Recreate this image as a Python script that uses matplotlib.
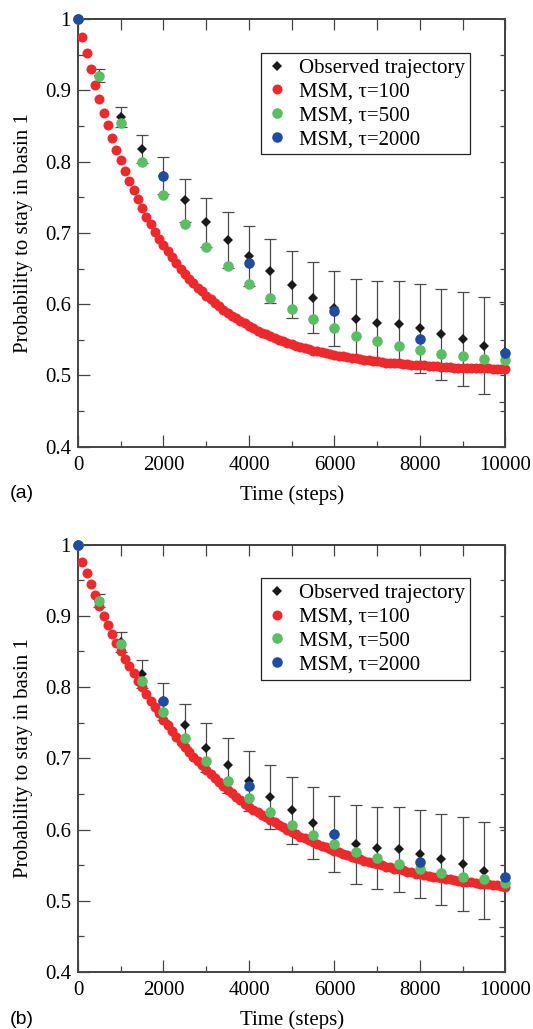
import matplotlib
matplotlib.use("Agg")
import matplotlib.pyplot as plt
import numpy as np

plt.rcParams['font.family'] = ['Liberation Serif', 'DejaVu Serif']

# observed trajectory (same in both panels)
t_obs = [0, 500, 1000, 1500, 2000, 2500, 3000, 3500, 4000, 4500, 5000,
         5500, 6000, 6500, 7000, 7500, 8000, 8500, 9000, 9500, 10000]
p_obs = [1.000, 0.921, 0.863, 0.818, 0.780, 0.746, 0.715, 0.690, 0.668, 0.646, 0.627,
         0.609, 0.594, 0.579, 0.574, 0.572, 0.566, 0.558, 0.551, 0.542, 0.533]
err_obs = [0.000, 0.009, 0.014, 0.020, 0.026, 0.030, 0.034, 0.039, 0.042, 0.045, 0.047,
           0.050, 0.053, 0.056, 0.058, 0.060, 0.062, 0.064, 0.066, 0.068, 0.070]

# MSM tau=100, every 100 steps
t_100 = np.arange(0, 10001, 100)
msm100_a = [1.000, 0.975, 0.952, 0.930, 0.908, 0.888, 0.869, 0.851, 0.834, 0.817,
            0.802, 0.787, 0.773, 0.760, 0.747, 0.735, 0.723, 0.713, 0.702, 0.692,
            0.683, 0.674, 0.666, 0.658, 0.650, 0.643, 0.636, 0.630, 0.623, 0.618,
            0.612, 0.607, 0.602, 0.597, 0.592, 0.588, 0.584, 0.580, 0.576, 0.573,
            0.570, 0.566, 0.563, 0.560, 0.558, 0.555, 0.553, 0.550, 0.548, 0.546,
            0.544, 0.542, 0.540, 0.539, 0.537, 0.535, 0.534, 0.533, 0.531, 0.530,
            0.529, 0.528, 0.527, 0.526, 0.525, 0.524, 0.523, 0.522, 0.521, 0.520,
            0.520, 0.519, 0.518, 0.518, 0.517, 0.517, 0.516, 0.516, 0.515, 0.515,
            0.514, 0.514, 0.513, 0.513, 0.513, 0.512, 0.512, 0.512, 0.511, 0.511,
            0.511, 0.511, 0.510, 0.510, 0.510, 0.510, 0.510, 0.509, 0.509, 0.509,
            0.509]
msm100_b = [1.000, 0.975, 0.960, 0.944, 0.929, 0.914, 0.900, 0.887, 0.874, 0.862,
            0.851, 0.840, 0.829, 0.819, 0.809, 0.800, 0.790, 0.781, 0.772, 0.763,
            0.754, 0.746, 0.738, 0.730, 0.723, 0.716, 0.709, 0.702, 0.696, 0.690,
            0.684, 0.678, 0.672, 0.667, 0.661, 0.656, 0.651, 0.646, 0.641, 0.636,
            0.632, 0.628, 0.624, 0.620, 0.617, 0.613, 0.610, 0.606, 0.603, 0.599,
            0.596, 0.593, 0.590, 0.588, 0.585, 0.582, 0.580, 0.577, 0.575, 0.572,
            0.570, 0.568, 0.566, 0.564, 0.562, 0.560, 0.558, 0.556, 0.555, 0.553,
            0.551, 0.550, 0.548, 0.547, 0.545, 0.544, 0.543, 0.541, 0.540, 0.538,
            0.537, 0.536, 0.535, 0.534, 0.533, 0.532, 0.531, 0.530, 0.529, 0.528,
            0.527, 0.526, 0.526, 0.525, 0.524, 0.524, 0.523, 0.522, 0.522, 0.521,
            0.520]

# MSM tau=500
t_500 = t_obs
msm500_a = [1.000, 0.920, 0.855, 0.799, 0.753, 0.713, 0.680, 0.653, 0.629, 0.609, 0.593,
            0.579, 0.567, 0.556, 0.549, 0.542, 0.536, 0.530, 0.527, 0.523, 0.521]
msm500_b = [1.000, 0.921, 0.861, 0.809, 0.765, 0.728, 0.696, 0.668, 0.644, 0.625, 0.607,
            0.592, 0.580, 0.569, 0.560, 0.552, 0.545, 0.539, 0.534, 0.530, 0.525]

# MSM tau=2000
t_2000 = [0, 2000, 4000, 6000, 8000, 10000]
msm2000_a = [1.000, 0.780, 0.658, 0.590, 0.551, 0.531]
msm2000_b = [1.000, 0.780, 0.661, 0.593, 0.554, 0.533]

x_major = [0, 2000, 4000, 6000, 8000, 10000]
x_minor = [1000, 3000, 5000, 7000, 9000]
x_top = list(range(0, 10001, 1000))
y_major = [0.4, 0.5, 0.6, 0.7, 0.8, 0.9, 1.0]
y_labels = ['0.4', '0.5', '0.6', '0.7', '0.8', '0.9', '1']
y_minor = [0.45, 0.55, 0.65, 0.75, 0.85, 0.95]
y_right = [0.4, 0.45, 0.5, 0.55, 0.6, 0.65, 0.7, 0.75, 0.8, 0.85, 0.9, 0.95, 1.0]

RED = '#ec2a2e'
GREEN = '#5bbd64'
BLUE = '#1f4c9e'
DARK = '#1a1a1a'
SPINE = '#444444'
FS = 15


def draw_panel(ax, msm100, msm500, msm2000, tag, fig_y):
    ax.errorbar(t_obs, p_obs, yerr=err_obs, fmt='none', ecolor='#4a4a4a',
                elinewidth=0.9, capsize=4.0, capthick=0.9, zorder=2)
    ax.plot(t_obs, p_obs, 'D', color=DARK, ms=5.0, mew=0, zorder=3,
            clip_on=False, label='Observed trajectory')
    ax.plot(t_100, msm100, 'o', color=RED, ms=7.2, mew=0, zorder=4,
            clip_on=False, label='MSM, τ=100')
    ax.plot(t_500, msm500, 'o', color=GREEN, ms=7.6, mew=0, zorder=5,
            clip_on=False, label='MSM, τ=500')
    ax.plot(t_2000, msm2000, 'o', color=BLUE, ms=7.6, mew=0, zorder=6,
            clip_on=False, label='MSM, τ=2000')

    ax.set_xlim(0, 10000)
    ax.set_ylim(0.4, 1.0)
    ax.set_xticks(x_major)
    ax.set_xticks(x_minor, minor=True)
    ax.set_yticks(y_major, y_labels)
    ax.set_yticks(y_minor, minor=True)
    ax.tick_params(which='both', direction='in', top=False, right=False,
                   color=SPINE, width=0.9, labelsize=FS)
    ax.tick_params(which='major', length=8.6)
    ax.tick_params(which='minor', length=4.0)
    ax.tick_params(axis='x', pad=6.5)
    ax.tick_params(axis='y', pad=5)

    top = ax.secondary_xaxis('top')
    top.set_xticks(x_top)
    top.tick_params(direction='in', length=8, width=0.9, color=SPINE,
                    labeltop=False)
    right = ax.secondary_yaxis('right')
    right.set_yticks(y_right)
    right.tick_params(direction='in', length=3.8, width=0.9, color=SPINE,
                      labelright=False)
    for a in (ax, top, right):
        for s in a.spines.values():
            s.set_color(SPINE)
            s.set_linewidth(1.4)

    ax.set_xlabel('Time (steps)', fontsize=FS)
    ax.set_ylabel('Probability to stay in basin 1', fontsize=FS)
    ax.xaxis.set_label_coords(0.5, -0.09)
    ax.yaxis.set_label_coords(-0.105, 0.5)

    leg = ax.legend(loc='upper left', bbox_to_anchor=(0.429, 0.921),
                    fontsize=FS, frameon=True, fancybox=False, framealpha=1,
                    edgecolor='#222222', borderpad=0.25, handlelength=1.0,
                    handletextpad=0.55, labelspacing=0.2, borderaxespad=0)
    leg.get_frame().set_linewidth(0.9)

    ax.figure.text(0.019, fig_y, tag, fontsize=14, family='Liberation Sans',
                   va='center', ha='left')


fig = plt.figure(figsize=(5.33, 10.29), dpi=100)
ax_a = fig.add_axes([0.1463, 0.5659, 0.8021, 0.4154])
ax_b = fig.add_axes([0.1463, 0.0554, 0.8021, 0.4154])

draw_panel(ax_a, msm100_a, msm500_a, msm2000_a, '(a)', 1 - 494 / 1029)
draw_panel(ax_b, msm100_b, msm500_b, msm2000_b, '(b)', 1 - 1019 / 1029)

fig.savefig('out.png', dpi=100)
